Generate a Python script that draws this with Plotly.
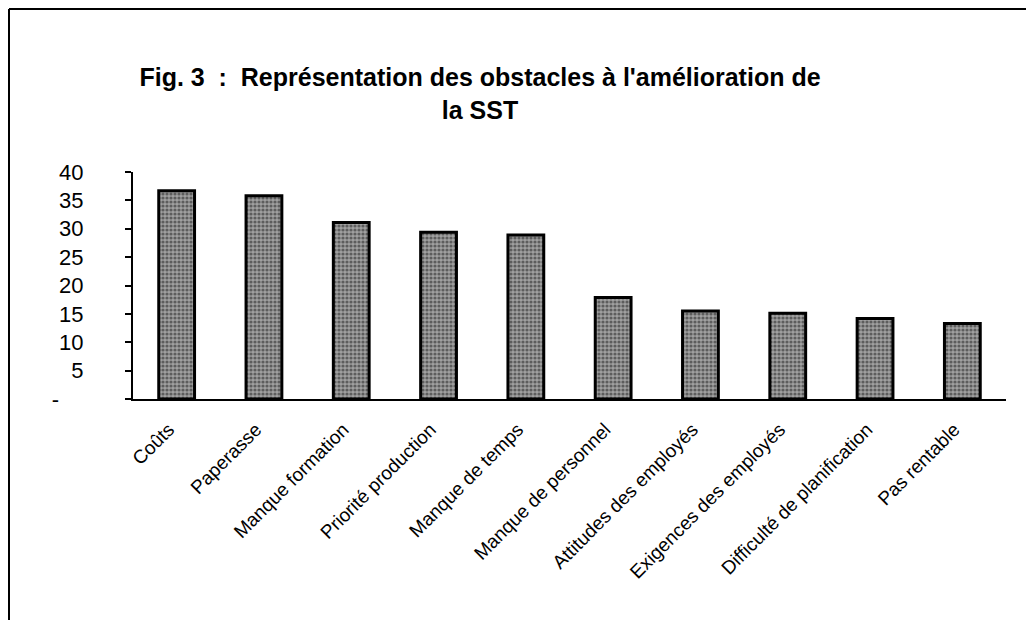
import plotly.graph_objects as go

categories = [
    "Coûts", "Paperasse", "Manque formation", "Priorité production",
    "Manque de temps", "Manque de personnel", "Attitudes des employés",
    "Exigences des employés", "Difficulté de planification", "Pas rentable",
]
values = [36.7, 35.8, 31.1, 29.4, 28.9, 17.9, 15.5, 15.1, 14.2, 13.3]

y_tickvals = [0, 5, 10, 15, 20, 25, 30, 35, 40]
y_ticktext = ["-\u00a0\u00a0\u00a0\u00a0", "5", "10", "15", "20", "25", "30", "35", "40"]

FONT = "Liberation Sans, Arial, sans-serif"

# la page ajoute 8 px de marge au body : figure réduite d'autant
W, H = 1026, 612
L, R, T, B = 125, 28, 164, 221
PW, PH = W - L - R, H - T - B

fig = go.Figure()
fig.add_trace(go.Bar(
    x=categories, y=values,
    marker=dict(
        color="#858585",
        line=dict(color="#000000", width=3),
        pattern=dict(shape=".", fgcolor="#1a1a1a", bgcolor="#a0a0a0",
                     size=4, solidity=0.5),
    ),
    width=0.41,
    showlegend=False,
))

fig.update_layout(
    width=W, height=H,
    paper_bgcolor="white", plot_bgcolor="white",
    font=dict(family=FONT, color="black"),
    margin=dict(l=L, r=R, t=T, b=B, autoexpand=False),
    title=dict(
        text="<b>Fig. 3  :  Représentation des obstacles à l'amélioration de<br>la SST</b>",
        font=dict(size=25, family=FONT),
        x=472 / W, xanchor="center", xref="container",
        y=1 - 78 / H, yanchor="top", yref="container",
    ),
    xaxis=dict(
        tickangle=-45, tickfont=dict(size=19),
        showline=True, linecolor="black", linewidth=2,
        ticks="", showgrid=False, ticklabelstandoff=10, ticklabelshift=-8,
    ),
    yaxis=dict(
        range=[0, 40], tickvals=y_tickvals, ticktext=y_ticktext,
        tickfont=dict(size=22), ticks="outside", ticklen=6, tickwidth=2,
        tickcolor="black", ticklabelstandoff=37,
        showline=True, linecolor="black", linewidth=2, showgrid=False,
        zeroline=False,
    ),
    yaxis2=dict(
        range=[0, 40], tickvals=y_tickvals, overlaying="y", anchor="x",
        side="left", ticks="inside", ticklen=6, tickwidth=2, tickcolor="black",
        showticklabels=False, showline=False, showgrid=False, zeroline=False,
    ),
    shapes=[
        dict(type="line", xref="paper", yref="paper",
             x0=(1 - L) / PW, x1=(W - L) / PW, y0=1 + (T - 1) / PH, y1=1 + (T - 1) / PH,
             line=dict(color="black", width=2)),
        dict(type="line", xref="paper", yref="paper",
             x0=(1 - L) / PW, x1=(1 - L) / PW, y0=1 + (T - 1) / PH, y1=-B / PH,
             line=dict(color="black", width=2)),
    ],
)

fig.write_html("out.html")
